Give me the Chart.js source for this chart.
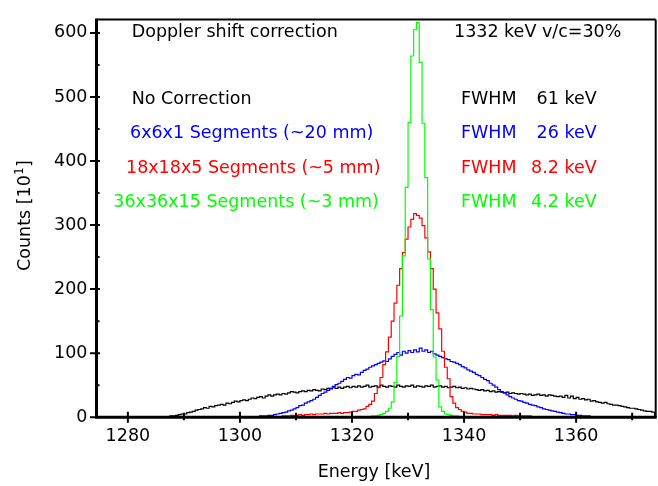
<!DOCTYPE html>
<html>
<head>
<meta charset="utf-8">
<script src="https://cdn.jsdelivr.net/npm/chart.js@4/dist/chart.umd.min.js"></script>
<style>
  html, body { margin: 0; padding: 0; background: #ffffff; }
  canvas { display: block; }
</style>
</head>
<body>
<canvas id="c" width="658" height="486" style="width:658px;height:486px"></canvas>
<script>
// ---------------- data (counts per 0.5 keV bin) ----------------
const binWidth = 0.5;

// No Correction (black), first bin starts at 1286.0 keV
const noCorrStart = 1286.0;
const noCorrCounts = [
  0,0, 1,1, 2,2, 3,4, 5,5, 7,8, 9,11, 12,13, 15,14, 17,16, 18,19, 20,19, 22,21, 23,25,
  24,26, 27,26, 28,30, 29,31, 32,30, 33,35, 33,35, 36,35, 37,36, 38,40, 39,38, 40,41,
  40,42, 41,43, 42,41, 44,43, 45,44, 46,45, 47,45, 47,48, 46,48, 47,49, 47,48, 50,47,
  48,49, 47,50, 48,47, 49,48, 47,50, 48,47, 49,48, 50,47, 49,48, 47,49, 48,50, 47,48,
  49,47, 48,46, 47,48, 46,47, 45,46, 44,45, 44,43, 42,43, 41,42, 40,41, 39,40, 39,38,
  39,37, 38,37, 36,37, 36,35, 36,34, 35,36, 34,35, 33,35, 34,33, 32,33, 31,34, 30,33,
  29,31, 28,29, 27,28, 25,26, 24,23, 22,23, 21,20, 19,19, 18,17, 16,15, 14,14, 13,12,
  11,10, 9,9, 8
];

// 6x6x1 Segments (blue), first bin starts at 1302.0 keV
const seg6Start = 1302.0;
const seg6Counts = [
  0,1, 1,1, 2,2, 2,3, 3,4, 5,6, 7,8, 10,11, 13,15, 18,19, 22,24, 26,28, 31,34, 37,39,
  42,45, 48,51, 53,56, 59,62, 61,65, 67,66, 70,73, 75,78, 80,82, 84,86, 88,87, 91,95,
  98,101, 97,103, 100,104, 101,105, 102,108, 103,105, 101,103, 99,97, 95,93, 91,90,
  87,86, 84,82, 79,77, 74,72, 70,67, 65,62, 59,57, 53,50, 47,43, 40,38, 35,32, 30,28,
  26,25, 23,22, 20,19, 18,16, 15,13, 12,11, 10,9, 8,7, 6,5, 5,4, 4,3, 3,2, 2,2, 1,1,
  1,0, 0
];

// 18x18x5 Segments (red), first bin starts at 1306.0 keV
const seg18Start = 1306.0;
const seg18Counts = [
  0,1, 1,1, 2,2, 2,3, 3,3, 4,3, 4,4, 5,4, 5,5, 5,6, 5,6, 6,6, 7,6, 7,7, 8,9, 9,11,
  12,13, 17,20, 25,37, 46,62, 82,102, 125,150, 178,206, 232,257, 278,297, 309,318,
  315,311, 299,280, 258,232, 200,163, 138,103, 78,60, 32,22, 15,12, 9,8, 6,6, 5,5,
  5,4, 4,4, 4,3, 4,3, 3,3, 3,3, 2,3, 2,2, 2,2, 2,1, 1,1, 1,1, 1,0, 0
];

// 36x36x15 Segments (green), first bin starts at 1322.0 keV
const seg36Start = 1322.0;
const seg36Counts = [
  0,1, 1,1, 2,2, 3,4, 6,9, 14,24, 54,95, 158,252, 359,460, 564,605, 616,554, 459,374,
  247,168, 94,58, 16,9, 5,4, 3,2, 2,1, 1,1, 0
];

// axes
const xMin = 1274.4, xMax = 1374.2;
const yMin = 0, yMax = 621;
const xTickLabels = [1280, 1300, 1320, 1340, 1360];
const xMinorTicks = [1290, 1310, 1330, 1350, 1370];
const yTickLabels = [0, 100, 200, 300, 400, 500, 600];
const yMinorTicks = [50, 150, 250, 350, 450, 550];

// annotation texts
const headerLeft = 'Doppler shift correction';
const headerRight = '1332 keV v/c=30%';
const seriesNames = ['No Correction', '6x6x1 Segments (~20 mm)', '18x18x5 Segments (~5 mm)', '36x36x15 Segments (~3 mm)'];
const fwhmValues = ['61 keV', '26 keV', '8.2 keV', '4.2 keV'];
const seriesColors = ['#000000', '#0000ff', '#ff0000', '#00ff00'];

// ---------------- build histogram step points ----------------
function histPoints(start, counts) {
  const pts = counts.map((v, i) => ({ x: start + i * binWidth, y: v }));
  pts.push({ x: start + counts.length * binWidth, y: 0 });
  return pts;
}

const FONT = 'DejaVu Sans';
Chart.defaults.font.family = FONT;

const overlay = {
  id: 'overlay',
  afterDatasetsDraw(chart) {
    const ctx = chart.ctx;
    const a = chart.chartArea;
    const xs = chart.scales.x, ys = chart.scales.y;
    ctx.save();
    ctx.strokeStyle = '#000';
    // frame
    ctx.lineWidth = 2;
    ctx.beginPath();
    ctx.moveTo(a.left, a.top); ctx.lineTo(a.right, a.top);
    ctx.moveTo(a.right, a.top); ctx.lineTo(a.right, a.bottom);
    ctx.stroke();
    ctx.lineWidth = 3;
    ctx.beginPath();
    ctx.moveTo(a.left, a.top - 1); ctx.lineTo(a.left, a.bottom + 1.5);
    ctx.moveTo(a.left - 1.5, a.bottom); ctx.lineTo(a.right + 1, a.bottom);
    ctx.stroke();
    // ticks
    ctx.lineWidth = 2;
    ctx.beginPath();
    yTickLabels.forEach(v => { const p = ys.getPixelForValue(v); ctx.moveTo(a.left - 6.5, p); ctx.lineTo(a.left + 3.5, p); });
    yMinorTicks.forEach(v => { const p = ys.getPixelForValue(v); ctx.moveTo(a.left - 1.5, p); ctx.lineTo(a.left + 3, p); });
    xTickLabels.forEach(v => { const p = xs.getPixelForValue(v); ctx.moveTo(p, a.bottom - 5.5); ctx.lineTo(p, a.bottom + 5.5); });
    xMinorTicks.forEach(v => { const p = xs.getPixelForValue(v); ctx.moveTo(p, a.bottom - 4.5); ctx.lineTo(p, a.bottom + 3); });
    ctx.stroke();

    // texts
    ctx.font = '17.5px "' + FONT + '"';
    ctx.textBaseline = 'alphabetic';
    ctx.textAlign = 'left';
    ctx.fillStyle = '#000';
    ctx.fillText(headerLeft, 131.7, 36.8);
    ctx.fillText(headerRight, 454, 36.8);
    const nameX = [131.7, 130, 126, 113.3];
    const baseY = [103.5, 138, 172.5, 206.5];
    for (let i = 0; i < seriesNames.length; i++) {
      ctx.fillStyle = seriesColors[i];
      ctx.textAlign = 'left';
      ctx.fillText(seriesNames[i], nameX[i], baseY[i]);
      ctx.fillText('FWHM', 461, baseY[i]);
      ctx.textAlign = 'right';
      ctx.fillText(fwhmValues[i], 596.7, baseY[i]);
    }

    // axis titles
    ctx.fillStyle = '#000';
    ctx.textAlign = 'center';
    ctx.fillText('Energy [keV]', 374, 477);

    ctx.save();
    ctx.translate(30, 215.5);
    ctx.rotate(-Math.PI / 2);
    ctx.textAlign = 'left';
    const big = '17.5px "' + FONT + '"', small = '11.5px "' + FONT + '"';
    ctx.font = big;
    const p1 = 'Counts [10', p3 = ']';
    const w1 = ctx.measureText(p1).width, w3 = ctx.measureText(p3).width;
    ctx.font = small;
    const w2 = ctx.measureText('1').width;
    const total = w1 + w2 + w3 + 1;
    let x0 = -total / 2;
    ctx.font = big;
    ctx.fillText(p1, x0, 0);
    ctx.font = small;
    ctx.fillText('1', x0 + w1 + 0.5, -7);
    ctx.font = big;
    ctx.fillText(p3, x0 + w1 + w2 + 1, 0);
    ctx.restore();

    ctx.restore();
  }
};

const ds = (label, start, counts, color) => ({
  label, data: histPoints(start, counts),
  borderColor: color, backgroundColor: color, borderWidth: 1.2,
  stepped: 'after', pointRadius: 0, fill: false, tension: 0
});

new Chart(document.getElementById('c').getContext('2d'), {
  type: 'line',
  data: {
    datasets: [
      ds(seriesNames[3], seg36Start, seg36Counts, seriesColors[3]),
      ds(seriesNames[2], seg18Start, seg18Counts, seriesColors[2]),
      ds(seriesNames[1], seg6Start, seg6Counts, seriesColors[1]),
      ds(seriesNames[0], noCorrStart, noCorrCounts, seriesColors[0])
    ]
  },
  options: {
    responsive: false,
    animation: false,
    devicePixelRatio: 1,
    layout: { padding: { top: 9, right: 2.3, left: 0, bottom: 0 } },
    plugins: { legend: { display: false }, tooltip: { enabled: false } },
    scales: {
      x: {
        type: 'linear', min: xMin, max: xMax,
        afterBuildTicks: s => { s.ticks = xTickLabels.map(v => ({ value: v })); },
        afterFit: s => { s.height = 68.8; },
        grid: { display: false, drawTicks: false },
        border: { display: false },
        ticks: { color: '#000', font: { size: 17.5, family: FONT }, padding: 9, maxRotation: 0, autoSkip: false,
                 callback: v => String(v) }
      },
      y: {
        type: 'linear', min: yMin, max: yMax,
        afterBuildTicks: s => { s.ticks = yTickLabels.map(v => ({ value: v })); },
        afterFit: s => { s.width = 96.5; },
        grid: { display: false, drawTicks: false },
        border: { display: false },
        ticks: { color: '#000', font: { size: 17.5, family: FONT }, padding: 9, autoSkip: false,
                 callback: v => String(v) }
      }
    }
  },
  plugins: [overlay]
});
</script>
</body>
</html>
